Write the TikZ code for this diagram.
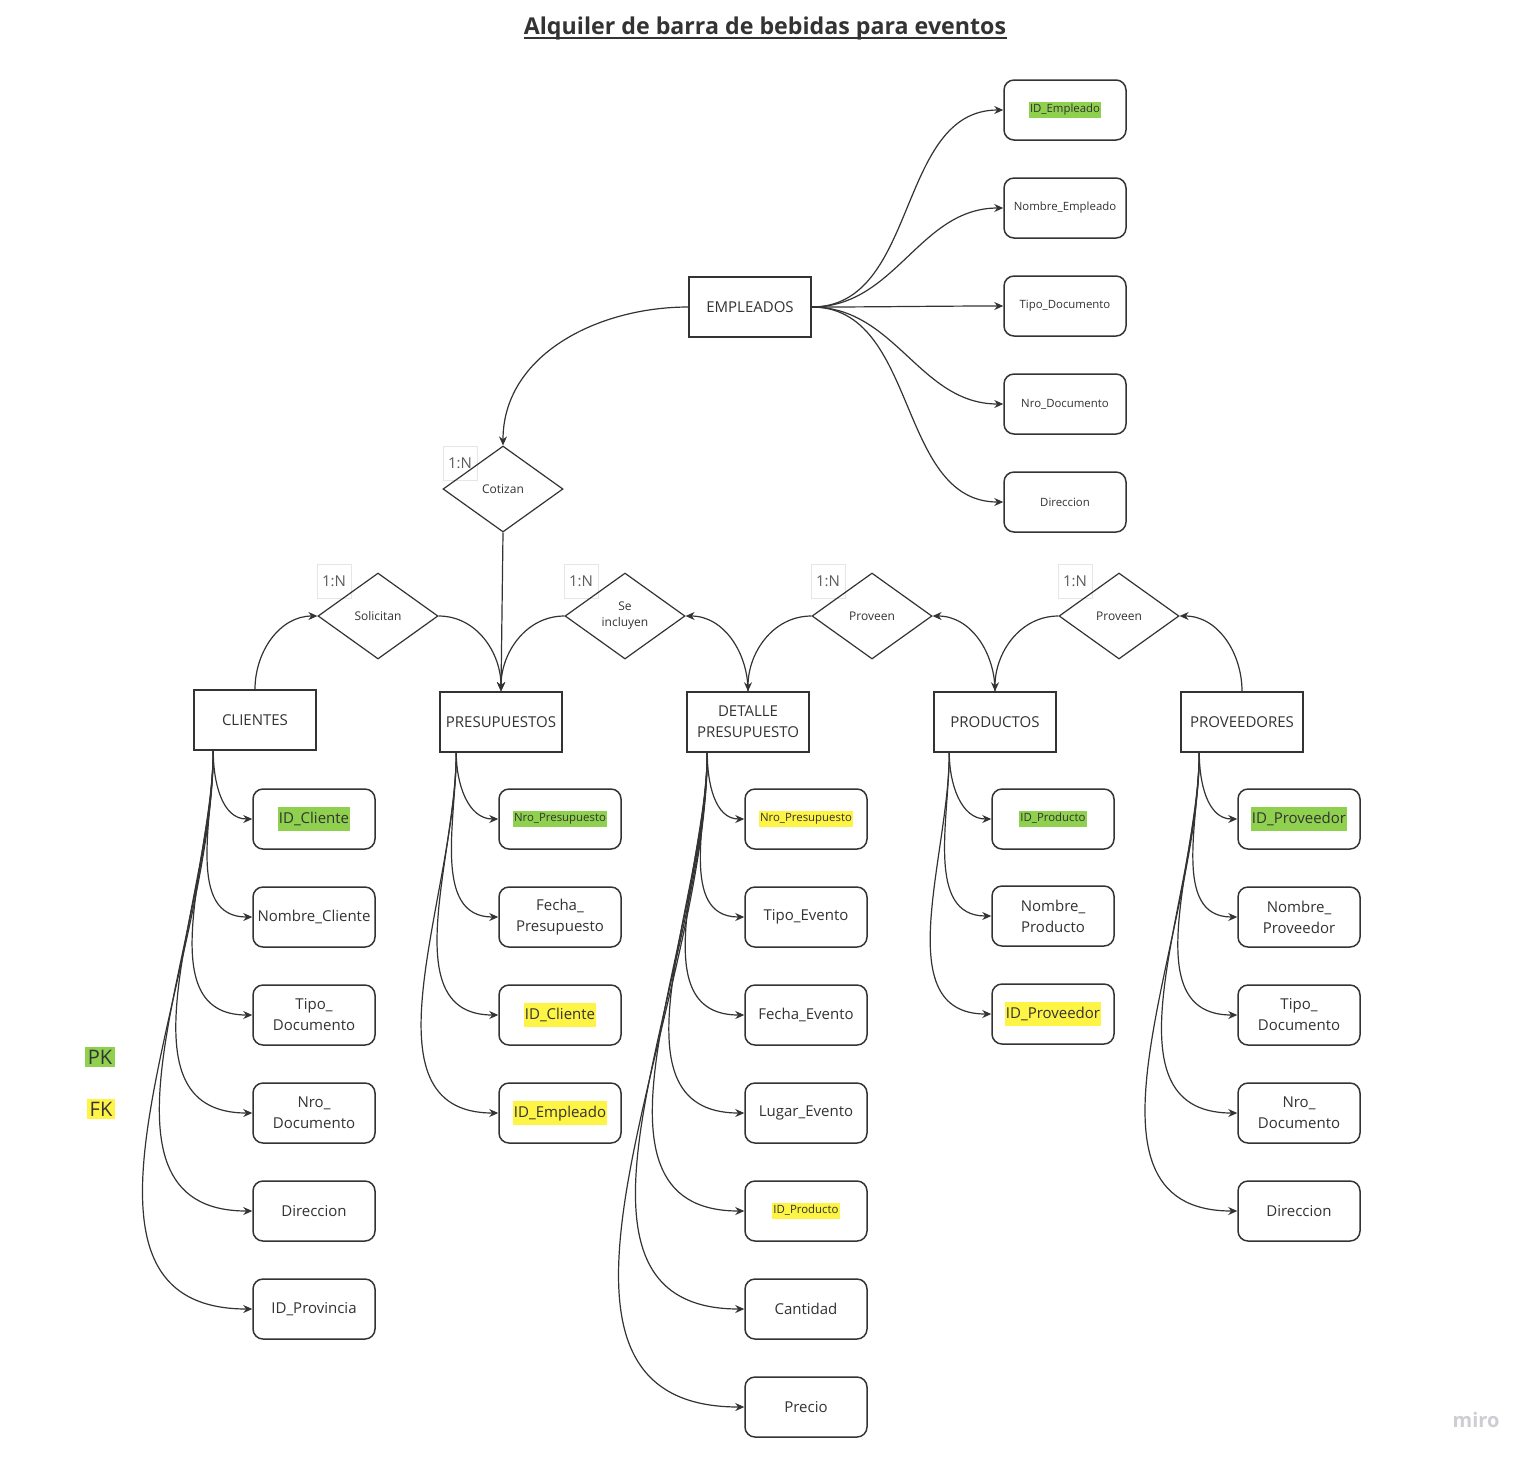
\documentclass[tikz,border=0pt]{standalone}
\usepackage{fontspec}
\setmainfont{Open Sans}
\usetikzlibrary{arrows.meta,shapes.geometric,calc}
\definecolor{ink}{HTML}{333333}
\definecolor{pkgreen}{HTML}{8FD14F}
\definecolor{fkyellow}{HTML}{FEF445}
\definecolor{cardgray}{HTML}{E6E6E6}
\definecolor{mirogray}{HTML}{CDCDD4}
\newcommand\chico{\fontsize{5.7}{7}\selectfont}
\newcommand\pk[1]{{\setlength\fboxsep{0.6pt}\colorbox{pkgreen}{\strut #1}}}
\newcommand\fk[1]{{\setlength\fboxsep{0.6pt}\colorbox{fkyellow}{\strut #1}}}
\tikzset{
  entidad/.style={draw=ink,line width=0.75pt,minimum width=61pt,minimum height=30pt,
    inner sep=0pt,align=center,text=ink,font=\fontsize{7.5}{10.5}\selectfont},
  atributo/.style={entidad,rounded corners=5pt},
  atributochico/.style={atributo,font=\chico},
  relacion/.style={draw=ink,line width=0.6pt,diamond,minimum width=60pt,minimum height=43pt,
    inner sep=0pt,align=center,text=ink,font=\fontsize{6}{8}\selectfont},
  card/.style={draw=cardgray,line width=0.5pt,minimum size=17pt,inner sep=0pt,
    text=ink!80,font=\fontsize{7.5}{9}\selectfont},
  flecha/.style={draw=ink,line width=0.6pt,-{Stealth[length=4.5pt,width=4pt]}}
}
\begin{document}
\begin{tikzpicture}[x=0.5pt,y=-0.5pt]
\useasboundingbox[fill=white] (0,0) rectangle (1536,1464);
% titulo
\node[anchor=base,inner sep=0pt,text=ink,font=\fontsize{11.6}{14}\bfseries\selectfont] (titulo) at (765,34)
  {Alquiler de barra de bebidas para eventos};
\draw[ink,line width=1pt] ($(titulo.base west)+(0,4)$) -- ($(titulo.base east)+(0,4)$);

% entidades
\node[entidad] (emp) at (750,307) {EMPLEADOS};
\node[entidad] (cli) at (255,720) {CLIENTES};
\node[entidad] (pre) at (501,722) {PRESUPUESTOS};
\node[entidad] (det) at (748,722) {DETALLE\\PRESUPUESTO};
\node[entidad] (prod) at (995,722) {PRODUCTOS};
\node[entidad] (prov) at (1242,722) {PROVEEDORES};

% relaciones
\foreach \n/\x/\y in {c1/460/463, c2/334/581, c3/581/581, c4/828/581, c5/1075/581}
  \node[card] (\n) at (\x,\y) {1:N};
\node[relacion] (cot) at (503,489) {Cotizan};
\node[relacion] (sol) at (378,616) {Solicitan};
\node[relacion] (inc) at (625,616) {Se\\incluyen};
\node[relacion] (prv1) at (872,616) {Proveen};
\node[relacion] (prv2) at (1119,616) {Proveen};

\draw[flecha] (emp.west) to[out=180,in=90] (cot.north);
\draw[flecha] (cot.south) -- (pre.north);
\draw[flecha] (sol.east) to[out=0,in=90] (pre.north);
\draw[flecha] (inc.west) to[out=180,in=90] (pre.north);
\draw[flecha] (cli.north) to[out=90,in=180] (sol.west);
\draw[flecha] (det.north) to[out=90,in=0] (inc.east);
\draw[flecha] (prv1.west) to[out=180,in=90] (det.north);
\draw[flecha] (prod.north) to[out=90,in=0] (prv1.east);
\draw[flecha] (prv2.west) to[out=180,in=90] (prod.north);
\draw[flecha] (prov.north) to[out=90,in=0] (prv2.east);

% atributos EMPLEADOS
\foreach \i/\y/\txt in {1/110/\pk{ID\_Empleado}, 2/208/Nombre\_Empleado, 3/306/Tipo\_Documento,
    4/404/Nro\_Documento, 5/502/Direccion}{
  \node[atributochico] (emp-\i) at (1065,\y) {\txt};
  \draw[flecha] (emp.east) to[out=0,in=180] (emp-\i.west);
}

% atributos CLIENTES
\coordinate (cli-b) at ($(cli.south west)+(20,0)$);
\foreach \i/\y/\txt in {1/819/\pk{ID\_Cliente}, 2/917/Nombre\_Cliente, 3/1015/Tipo\_\\Documento,
    4/1113/Nro\_\\Documento, 5/1211/Direccion, 6/1309/ID\_Provincia}{
  \node[atributo] (cli-\i) at (314,\y) {\txt};
  \draw[flecha] (cli-b) to[out=-90,in=180] (cli-\i.west);
}

% atributos PRESUPUESTOS
\coordinate (pre-b) at ($(pre.south west)+(17,0)$);
\foreach \i/\y/\txt in {1/819/{\chico\pk{Nro\_Presupuesto}}, 2/917/Fecha\_\\Presupuesto,
    3/1015/\fk{ID\_Cliente}, 4/1113/\fk{ID\_Empleado}}{
  \node[atributo] (pre-\i) at (560,\y) {\txt};
  \draw[flecha] (pre-b) to[out=-90,in=180] (pre-\i.west);
}

% atributos DETALLE PRESUPUESTO
\coordinate (det-b) at ($(det.south west)+(21,0)$);
\foreach \i/\y/\txt in {1/819/{\chico\fk{Nro\_Presupuesto}}, 2/917/Tipo\_Evento, 3/1015/Fecha\_Evento,
    4/1113/Lugar\_Evento, 5/1211/{\chico\fk{ID\_Producto}}, 6/1309/Cantidad, 7/1407/Precio}{
  \node[atributo] (det-\i) at (806,\y) {\txt};
  \draw[flecha] (det-b) to[out=-90,in=180] (det-\i.west);
}

% atributos PRODUCTOS
\coordinate (prod-b) at ($(prod.south west)+(16,0)$);
\foreach \i/\y/\txt in {1/819/{\chico\pk{ID\_Producto}}, 2/916/Nombre\_\\Producto, 3/1014/\fk{ID\_Proveedor}}{
  \node[atributo] (prod-\i) at (1053,\y) {\txt};
  \draw[flecha] (prod-b) to[out=-90,in=180] (prod-\i.west);
}

% atributos PROVEEDORES
\coordinate (prov-b) at ($(prov.south west)+(19,0)$);
\foreach \i/\y/\txt in {1/819/\pk{ID\_Proveedor}, 2/917/Nombre\_\\Proveedor, 3/1015/Tipo\_\\Documento,
    4/1113/Nro\_\\Documento, 5/1211/Direccion}{
  \node[atributo] (prov-\i) at (1299,\y) {\txt};
  \draw[flecha] (prov-b) to[out=-90,in=180] (prov-\i.west);
}

% leyenda
\node[fill=pkgreen,inner sep=1.5pt,text=ink,font=\fontsize{10}{12}\selectfont] (ley-pk) at (100,1057) {PK};
\node[fill=fkyellow,inner sep=1.5pt,text=ink,font=\fontsize{10}{12}\selectfont] (ley-fk) at (101,1109) {FK};
\node[text=mirogray,font=\fontsize{10}{12}\bfseries\selectfont] (logo) at (1476,1420) {miro};
\end{tikzpicture}
\end{document}
